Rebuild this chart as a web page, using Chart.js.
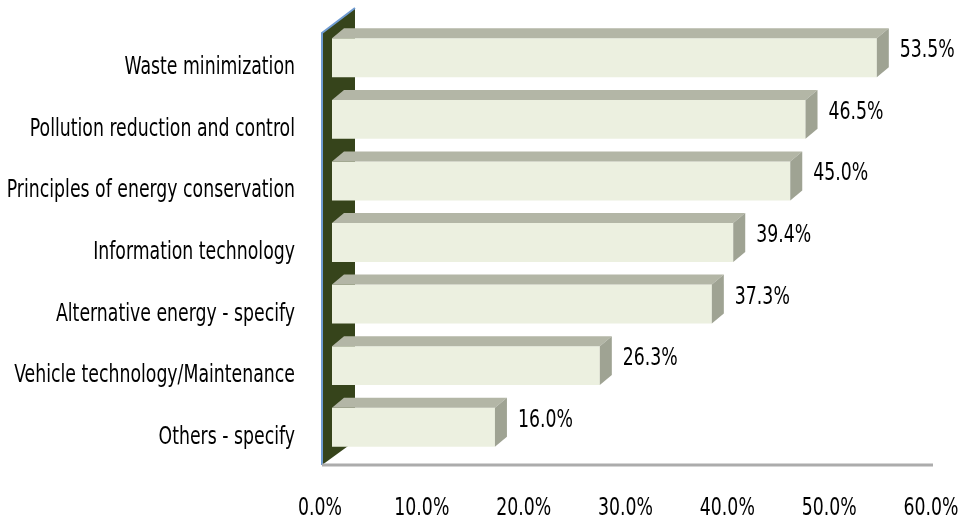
<!DOCTYPE html>
<html>
<head>
<meta charset="utf-8">
<script src="https://cdn.jsdelivr.net/npm/chart.js@4.4.1/dist/chart.umd.min.js"></script>
<style>
  html, body { margin: 0; padding: 0; background: #fff; }
</style>
</head>
<body>
<canvas id="chart" width="963" height="523"></canvas>
<script>
const categories = [
  'Waste minimization',
  'Pollution reduction and control',
  'Principles of energy conservation',
  'Information technology',
  'Alternative energy - specify',
  'Vehicle technology/Maintenance',
  'Others - specify'
];
const shares = [53.5, 46.5, 45.0, 39.4, 37.3, 26.3, 16.0];
const axisMin = 0;
const axisMax = 60;
const axisStep = 10;

const fontFamily = "'DejaVu Sans Condensed', sans-serif";
const fontSize = 25;
const squeeze = 0.77;
const depthX = 12, depthY = 10;

// condensed text, the reference uses a narrow face
function narrowText(ctx, text, x, y, align) {
  ctx.save();
  ctx.translate(x, y);
  ctx.scale(squeeze, 1);
  ctx.textAlign = align;
  ctx.textBaseline = 'middle';
  ctx.fillText(text, 0, 0);
  ctx.restore();
}

// 3d look: back wall, floor line, bar tops/sides and value labels
const bars3d = {
  id: 'bars3d',
  beforeDatasetsDraw(chart) {
    const { ctx, chartArea: a } = chart;
    ctx.save();
    ctx.fillStyle = '#36441b';
    ctx.beginPath();
    ctx.moveTo(a.left - 10, a.top + 6);
    ctx.lineTo(a.left + 23, a.top - 19);
    ctx.lineTo(a.left + 23, a.bottom - 17);
    ctx.lineTo(a.left - 10, a.bottom + 7);
    ctx.closePath();
    ctx.fill();
    ctx.strokeStyle = '#6f9bd1';
    ctx.lineWidth = 2;
    ctx.beginPath();
    ctx.moveTo(a.left - 10, a.bottom + 7);
    ctx.lineTo(a.left - 10, a.top + 6);
    ctx.lineTo(a.left + 23, a.top - 19);
    ctx.stroke();
    ctx.strokeStyle = '#acacac';
    ctx.lineWidth = 3;
    ctx.beginPath();
    ctx.moveTo(a.left - 10, a.bottom + 7);
    ctx.lineTo(a.right - 10, a.bottom + 7);
    ctx.stroke();
    ctx.restore();
  },
  afterDatasetsDraw(chart) {
    const { ctx } = chart;
    const meta = chart.getDatasetMeta(0);
    ctx.save();
    meta.data.forEach((bar, i) => {
      const x0 = bar.base, x1 = bar.x;
      const top = bar.y - bar.height / 2, bottom = bar.y + bar.height / 2;
      ctx.fillStyle = '#b3b6a6';
      ctx.beginPath();
      ctx.moveTo(x0, top);
      ctx.lineTo(x0 + depthX, top - depthY);
      ctx.lineTo(x1 + depthX, top - depthY);
      ctx.lineTo(x1, top);
      ctx.closePath();
      ctx.fill();
      ctx.fillStyle = '#9fa393';
      ctx.beginPath();
      ctx.moveTo(x1, top);
      ctx.lineTo(x1 + depthX, top - depthY);
      ctx.lineTo(x1 + depthX, bottom - depthY);
      ctx.lineTo(x1, bottom);
      ctx.closePath();
      ctx.fill();
      ctx.fillStyle = '#000';
      ctx.font = fontSize + 'px ' + fontFamily;
      narrowText(ctx, shares[i].toFixed(1) + '%', x1 + 23, bar.y - 7, 'left');
    });
    ctx.restore();
  },
  afterDraw(chart) {
    const { ctx, scales: { x, y } } = chart;
    ctx.save();
    ctx.fillStyle = '#000';
    ctx.font = fontSize + 'px ' + fontFamily;
    y.ticks.forEach((t, i) => {
      narrowText(ctx, categories[t.value], 295, y.getPixelForTick(i) + 10, 'right');
    });
    x.ticks.forEach((t, i) => {
      narrowText(ctx, t.value.toFixed(1) + '%', x.getPixelForTick(i) - 12, 508, 'center');
    });
    ctx.restore();
  }
};

new Chart(document.getElementById('chart').getContext('2d'), {
  type: 'bar',
  data: {
    labels: categories,
    datasets: [{
      data: shares,
      backgroundColor: '#ecf0e0',
      borderWidth: 0,
      categoryPercentage: 1,
      barPercentage: 0.632
    }]
  },
  options: {
    indexAxis: 'y',
    responsive: false,
    animation: false,
    layout: { padding: { top: 27, right: 20, left: 0, bottom: 0 } },
    plugins: { legend: { display: false }, tooltip: { enabled: false } },
    scales: {
      x: {
        min: axisMin,
        max: axisMax,
        grid: { display: false },
        border: { display: false },
        afterFit(scale) {
          scale.height = 65;
          scale.paddingLeft = 0;
          scale.paddingRight = 0;
        },
        ticks: { stepSize: axisStep, display: false }
      },
      y: {
        grid: { display: false },
        border: { display: false },
        afterFit(scale) {
          scale.width = 332;
          scale.paddingTop = 0;
          scale.paddingBottom = 0;
        },
        ticks: { display: false }
      }
    }
  },
  plugins: [bars3d]
});
</script>
</body>
</html>
